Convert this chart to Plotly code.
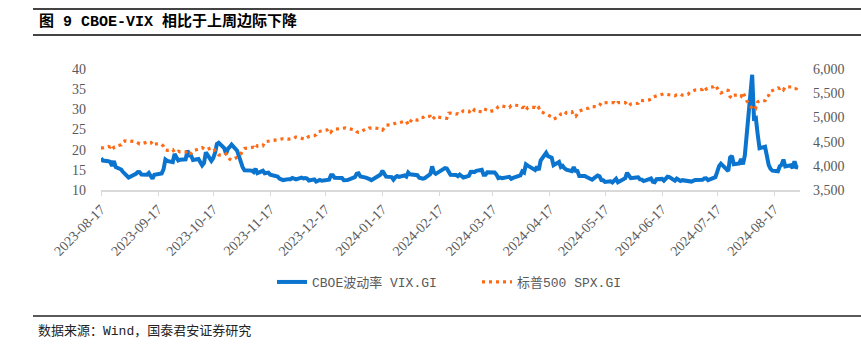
import pandas as pd
import plotly.graph_objects as go

# ---------------- data ----------------
holidays = ["2023-09-04", "2023-11-23", "2023-12-25", "2024-01-01", "2024-01-15",
            "2024-02-19", "2024-03-29", "2024-05-27", "2024-06-19", "2024-07-04"]
start_date = "2023-08-17"
end_date = "2024-08-30"

vix = [
    # 2023-08
    17.89, 17.30, 17.13, 16.97, 15.98, 17.20, 15.68, 15.08, 14.45, 13.88, 13.57,
    # 2023-09
    13.09, 14.02, 14.45, 14.40, 13.84, 13.80, 14.23, 13.48, 12.82, 13.79,
    14.00, 14.11, 15.14, 17.54, 17.20, 16.90, 18.94, 18.22, 17.34, 17.52,
    # 2023-10
    17.61, 19.78, 18.58, 18.49, 17.45, 17.70, 17.03, 16.09, 16.69, 19.32, 17.21,
    17.88, 19.22, 21.40, 21.71, 20.37, 18.97, 20.19, 20.68, 21.27, 19.75, 18.14,
    # 2023-11
    16.87, 15.66, 14.91, 14.89, 14.81, 14.45, 15.29, 14.17, 14.76, 14.16, 14.18,
    14.32, 13.80, 13.41, 13.35, 12.85, 12.46, 12.69, 12.69, 12.98, 12.92,
    # 2023-12
    12.63, 13.08, 12.85, 12.97, 12.86, 12.35, 12.63, 12.07, 12.19, 12.48,
    12.28, 12.56, 12.53, 13.67, 13.65, 13.03, 12.99, 12.43, 12.47, 12.45,
    # 2024-01
    13.20, 14.04, 14.13, 13.35, 13.08, 12.76, 12.69, 12.44, 12.70, 13.84, 14.79,
    14.13, 13.30, 13.19, 12.55, 13.14, 13.45, 13.26, 13.60, 13.31, 14.35,
    # 2024-02
    13.88, 13.85, 13.67, 13.06, 12.83, 12.79, 12.93, 13.93, 15.85, 14.38,
    14.01, 14.24, 15.42, 15.34, 14.54, 13.75, 13.74, 13.43, 13.84, 13.40,
    # 2024-03
    13.11, 13.49, 14.46, 14.50, 14.44, 14.74, 15.01, 13.75, 13.75, 14.40,
    14.41, 14.33, 13.82, 12.92, 13.06, 12.92, 13.19, 13.24, 12.78, 13.01,
    # 2024-04
    13.65, 14.61, 14.33, 16.35, 16.03, 15.19, 14.98, 15.80, 14.91, 17.31, 19.23,
    18.40, 18.21, 18.00, 16.14, 16.94, 15.69, 15.97, 15.37, 15.03, 14.67, 15.65,
    # 2024-05
    14.75, 14.68, 13.49, 13.49, 13.23, 13.00, 12.69, 12.55, 13.60, 13.42, 12.45,
    12.42, 11.99, 12.15, 11.86, 12.29, 12.77, 11.93, 12.92, 14.28, 13.49, 12.92,
    # 2024-06
    13.11, 13.16, 12.63, 12.58, 12.22, 12.74, 12.85, 12.04, 11.94, 12.66,
    12.75, 12.30, 13.28, 13.20, 12.33, 12.84, 12.55, 12.24, 12.44,
    # 2024-07
    12.22, 12.03, 12.09, 12.48, 12.37, 12.51, 12.85, 12.89, 12.46, 13.12, 13.19,
    14.48, 15.93, 16.52, 14.91, 14.72, 18.04, 18.46, 16.39, 16.60, 17.69, 16.36,
    # 2024-08
    18.59, 23.39, 38.57, 27.71, 27.85, 23.79, 20.37, 20.71, 18.12, 16.19, 15.23,
    14.80, 14.65, 15.88, 16.27, 17.55, 15.86, 16.15, 15.43, 17.11, 15.65, 15.55,
]

spx = [
    # 2023-08
    4370, 4370, 4400, 4388, 4436, 4376, 4406, 4433, 4497, 4515, 4508,
    # 2023-09
    4516, 4497, 4465, 4451, 4457, 4487, 4462, 4467, 4505, 4450,
    4454, 4444, 4402, 4330, 4320, 4337, 4274, 4275, 4300, 4288,
    # 2023-10
    4288, 4229, 4263, 4258, 4308, 4336, 4358, 4376, 4349, 4327, 4374,
    4373, 4315, 4278, 4224, 4217, 4248, 4186, 4137, 4117, 4167, 4194,
    # 2023-11
    4237, 4318, 4358, 4365, 4378, 4383, 4347, 4415, 4412, 4496, 4502,
    4508, 4514, 4547, 4538, 4556, 4559, 4550, 4555, 4551, 4568,
    # 2023-12
    4595, 4569, 4567, 4549, 4585, 4604, 4622, 4644, 4707, 4720,
    4719, 4741, 4768, 4699, 4746, 4755, 4775, 4781, 4783, 4770,
    # 2024-01
    4743, 4705, 4689, 4697, 4764, 4757, 4783, 4780, 4784, 4766, 4739,
    4780, 4840, 4850, 4865, 4869, 4894, 4891, 4928, 4925, 4846,
    # 2024-02
    4906, 4959, 4943, 4954, 4995, 4998, 5027, 5022, 4953, 5001,
    5030, 5006, 4976, 4982, 5087, 5089, 5070, 5078, 5069, 5096,
    # 2024-03
    5137, 5130, 5079, 5105, 5157, 5124, 5118, 5175, 5165, 5150,
    5117, 5149, 5178, 5225, 5241, 5234, 5218, 5203, 5248, 5254,
    # 2024-04
    5243, 5205, 5211, 5147, 5204, 5202, 5209, 5161, 5199, 5123, 5062,
    5051, 5022, 5011, 4967, 5011, 5070, 5071, 5048, 5100, 5116, 5036,
    # 2024-05
    5018, 5064, 5128, 5181, 5187, 5188, 5214, 5223, 5221, 5247, 5308,
    5297, 5303, 5308, 5321, 5307, 5268, 5305, 5306, 5267, 5236, 5278,
    # 2024-06
    5283, 5291, 5354, 5352, 5347, 5361, 5375, 5421, 5434, 5431,
    5473, 5487, 5473, 5465, 5448, 5469, 5478, 5483, 5460,
    # 2024-07
    5475, 5509, 5537, 5567, 5572, 5577, 5633, 5585, 5615, 5631, 5667,
    5588, 5545, 5505, 5564, 5556, 5427, 5399, 5459, 5464, 5436, 5522,
    # 2024-08
    5446, 5347, 5186, 5240, 5199, 5319, 5344, 5344, 5435, 5455, 5543,
    5554, 5608, 5597, 5621, 5571, 5635, 5616, 5626, 5592, 5592, 5648,
]

series_names = ["CBOE波动率 VIX.GI", "标普500 SPX.GI"]
title_text = "图 9 CBOE-VIX 相比于上周边际下降"
source_text = "数据来源：Wind，国泰君安证券研究"

dates = [d for d in pd.bdate_range(start_date, end_date) if d.strftime("%Y-%m-%d") not in holidays]
n = min(len(dates), len(vix), len(spx))
dates, vix, spx = dates[:n], vix[:n], spx[:n]

# ---------------- layout helpers ----------------
W, H = 861, 347
PL, PR, PT, PB = 101, 800, 69, 190


def px(x):
    return (x - PL) / (PR - PL)


def py(y):
    return (PB - y) / (PB - PT)


BLUE = "#0B74CE"
ORANGE = "#FF6A14"
GREY = "#595959"
SERIF = "Liberation Serif, Times New Roman, serif"
CJK = "Liberation Mono, Noto Sans CJK SC, monospace"

fig = go.Figure()
fig.add_trace(go.Scatter(x=dates, y=vix, name=series_names[0], mode="lines",
                         line=dict(color=BLUE, width=4), yaxis="y"))
fig.add_trace(go.Scatter(x=dates, y=spx, name=series_names[1], mode="lines",
                         line=dict(color=ORANGE, width=3.2, dash="3px,4px"), yaxis="y2"))

fig.update_layout(
    width=W, height=H,
    margin=dict(l=PL, r=W - PR, t=PT, b=H - PB, pad=0),
    paper_bgcolor="white", plot_bgcolor="white",
    showlegend=True,
    legend=dict(orientation="h", x=px(272), xanchor="left", y=py(282), yanchor="middle",
                font=dict(family=CJK, size=13, color=GREY), itemwidth=30,
                entrywidth=160, entrywidthmode="pixels",
                bgcolor="rgba(0,0,0,0)"),
    xaxis=dict(type="date", range=["2023-08-17", "2024-08-31"],
               tick0="2023-08-17", dtick="M1", tickformat="%Y-%m-%d",
               tickangle=-45, ticks="outside", ticklen=4, tickcolor="#D9D9D9",
               showline=True, linecolor="#D9D9D9", linewidth=1.5,
               showgrid=False, zeroline=False,
               tickfont=dict(family=SERIF, size=14, color=GREY)),
    yaxis=dict(range=[10, 40], dtick=5, tick0=10, showgrid=False, zeroline=False,
               showline=False, ticks="", ticklabelstandoff=14,
               tickfont=dict(family=SERIF, size=14, color=GREY)),
    yaxis2=dict(range=[3500, 6000], dtick=500, tick0=3500, overlaying="y", side="right",
                showgrid=False, zeroline=False, showline=False, ticks="",
                tickformat=",", ticklabelstandoff=12,
                tickfont=dict(family=SERIF, size=14, color=GREY)),
)

# header / footer decorations
for yp, wdt, col in [(9, 2, "#444444"), (35, 2, "#444444"), (316, 1.5, "#222222")]:
    fig.add_shape(type="line", xref="paper", yref="paper",
                  x0=px(33), x1=px(861), y0=py(yp), y1=py(yp),
                  line=dict(color=col, width=wdt))

fig.add_annotation(xref="paper", yref="paper", x=px(37), y=py(21),
                   xanchor="left", yanchor="middle", showarrow=False,
                   text="<b>" + title_text + "</b>",
                   font=dict(family=CJK, size=15, color="#000000"))
fig.add_annotation(xref="paper", yref="paper", x=px(36), y=py(331),
                   xanchor="left", yanchor="middle", showarrow=False,
                   text=source_text,
                   font=dict(family=CJK, size=13, color="#222222"))

fig.write_html("out.html")
